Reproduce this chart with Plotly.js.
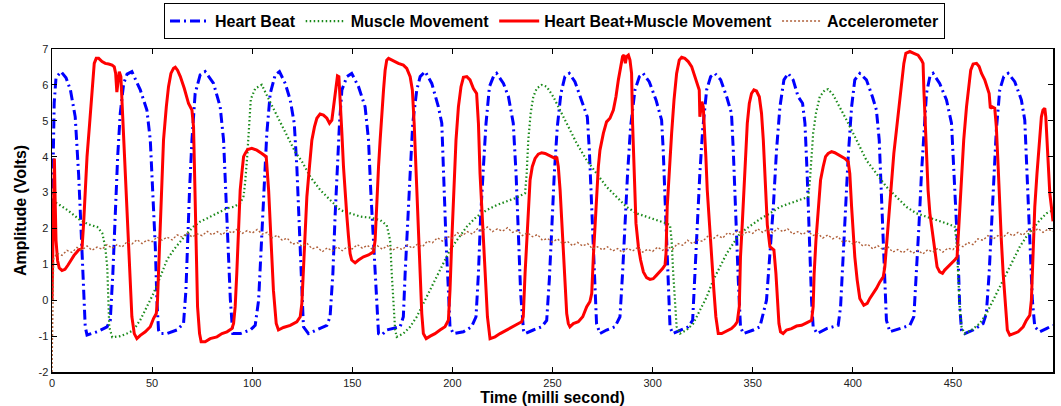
<!DOCTYPE html>
<html>
<head>
<meta charset="utf-8">
<script src="https://cdn.plot.ly/plotly-3.0.1.min.js"></script>
<style>html,body{margin:0;padding:0;background:#fff;}#chart{width:1061px;height:406px;}</style>
</head>
<body>
<div id="chart"></div>
<script>
// ---- Heart Beat (time ms, volts) ----
const hbT = [
0,0.5,1.1,2,4.5,7,9.2,11.6,13.3,14.5,15.5,16.6,17.5,22.5,27.5,29.1,
30.4,31.6,32.8,34.1,35.8,37.5,39.9,44.1,47.4,49.1,50.2,51.6,52.4,53.2,54.1,57.4,62.4,65.7,
66.9,67.7,68.7,69.9,71.5,74,76.5,80.7,84,85.7,86.7,87.9,89.1,90.3,94,99,101.5,
103.2,104.8,106,107.3,109,111.5,113.6,116.5,119,121,122.3,123.6,124.8,125.6,128.1,132.3,137.3,138.9,
140.3,141.4,142.6,143.6,144.8,147.3,149.7,153.1,156.4,158.1,159.2,160.6,161.9,163.1,164.7,167.2,173.9,175.5,
176.4,177.5,178.9,180.2,182.2,183.9,186.4,189.7,193,194.7,195.5,196.8,198,198.8,200.5,205.5,209.6,211.8,
213,214.1,215.5,216.8,218.5,220.5,222.1,225.5,228,230.4,231.8,233,234.1,235.5,236.3,240.4,244.6,247.1,
248.4,249.6,250.9,252.4,254.2,256.2,258.4,261.2,264.6,267.4,268.4,269.6,270.7,272,273.7,277,281.2,283.7,
285,286.2,287.5,289,291.2,293.4,295.3,298.3,301.7,304.5,305.3,306.5,307.5,308.7,310,313.7,317.8,320,
321.1,322.3,323.6,325,327,329,331.1,334,337,339.4,340.3,341.4,342.8,343.9,345.3,350.3,353.6,
356.9,358.6,360.3,361.9,363.6,365.6,367.7,370.2,372.7,374.9,376.1,377.2,378.2,379.4,380.2,382.2,386.9,392.7,
393.9,395.2,396.5,397.7,399.4,401,403.5,406.8,409.8,411.8,413.2,414.3,415.5,416.8,418.5,423.5,428.5,430.5,
431.8,433.1,434.3,435.5,436.8,438.5,440.1,443.4,446.8,449.3,450.9,452.6,453.4,454.3,455.9,460.1,465.1,466.7,
468.1,469.2,470.6,471.7,473.4,475.4,477.6,480.9,484.2,485.9,487.1,488.4,489.7,490.9,493.4,496.7,500
];
const hbV = [
2.0,3.5,5.5,6.2,6.37,6.2,5.86,5.11,3.5,2.0,0.75,-0.74,-0.97,-0.88,-0.74,-0.56,
0.75,2.42,4.0,5.21,6.04,6.3,6.37,5.86,5.3,4.46,3.07,1.49,0.0,-0.83,-0.93,-0.93,-0.83,-0.65,
0.28,1.67,3.07,4.46,5.76,6.28,6.37,6.04,5.39,4.46,3.07,1.49,0.0,-0.93,-0.93,-0.83,-0.7,
0.0,1.67,3.25,4.65,5.76,6.28,6.37,6.04,5.58,4.93,3.72,2.05,0.19,-0.74,-0.93,-0.83,-0.7,-0.46,
0.75,2.33,3.72,4.93,5.86,6.23,6.32,5.95,5.39,4.46,3.07,1.67,0.0,-0.93,-0.97,-0.83,-0.74,-0.46,
0.75,2.14,3.53,4.93,5.86,6.23,6.37,6.04,5.39,4.93,3.53,1.67,0.28,-0.74,-0.93,-0.88,-0.74,-0.46,
0.75,2.33,3.72,4.93,5.95,6.23,6.32,6.04,5.67,4.93,3.53,1.67,0.19,-0.83,-0.93,-0.83,-0.74,-0.56,
0.56,1.95,3.53,4.83,5.76,6.23,6.32,6.09,5.58,5.11,4.18,2.6,0.93,-0.65,-0.93,-0.83,-0.74,-0.46,
0.75,2.14,3.53,4.83,5.86,6.23,6.32,6.09,5.58,5.02,4.18,2.42,0.75,-0.74,-0.93,-0.83,-0.74,-0.56,
0.56,2.05,3.53,4.74,5.86,6.23,6.32,6.14,5.67,5.21,4.18,2.42,0.56,-0.74,-0.93,-0.83,-0.74,
0.0,1.21,2.6,4.18,5.39,6.14,6.32,6.14,5.67,5.49,4.93,3.53,1.67,0.0,-0.74,-0.93,-0.79,-0.7,
-0.18,1.21,2.6,4.0,5.39,6.14,6.32,6.14,5.67,5.3,4.46,2.79,0.93,-0.56,-0.88,-0.79,-0.7,-0.46,
0.75,2.14,3.53,4.74,5.76,6.23,6.32,6.04,5.58,4.93,3.07,1.21,-0.18,-0.83,-0.93,-0.83,-0.65,-0.37,
0.75,2.14,3.53,4.74,5.86,6.23,6.32,6.09,5.58,5.02,3.53,1.67,0.0,-0.74,-0.88,-0.79,-0.7
];

// ---- Muscle Movement ----
const mmT = [
0,2.6,8,14.1,18,22.6,25.1,26.6,27.6,28.1,28.6,30.1,34.1,37.4,40.6,44.1,47.4,50.7,54.1,57.4,
60.7,64.1,67.4,70.7,74,77.4,80.7,84,87.4,90.7,94,95.7,96.5,97.5,98.5,99.3,101.5,104.8,108,111.5,
115,118,121.5,125,129,134,139,144,149,154,159,164,167.2,168.9,169.7,170.5,171.4,172.2,175.5,178.9,
182.2,185.5,188.9,192.2,195.5,198.8,202.2,207.2,212.1,217.1,222.1,227.1,232.1,236.3,237.1,237.9,239.1,240.4,242.1,244.6,
247.1,250.4,253.8,257.1,262.1,267.1,272.1,277,282,287,292,297,302,307,308.7,309.5,310.3,311.2,312,313.7,
317,320.3,323.6,327,330.3,333.6,337,340.3,343.6,347,350.3,353.6,358.6,363.6,368.6,373.6,377.7,378.6,379.4,380.2,
381.6,383.5,386.1,387.7,390.2,393.5,396.9,401.9,406.8,411.8,416.8,421.8,426.8,431.8,436.8,441.8,446.8,450.9,451.8,452.6,
453.4,454.3,455.9,459.3,463.4,466.8,470.1,473.4,476.7,480.1,483.4,486.7,490,493.4,496.7,500
];
const mmV = [
2.75,2.7,2.5,2.23,2.12,2.04,1.87,1.48,0.92,0.0,-0.75,-1.03,-1.0,-0.93,-0.84,-0.55,-0.18,0.19,0.65,1.12,
1.4,1.63,1.86,2.05,2.19,2.28,2.37,2.47,2.56,2.6,2.7,2.9,3.3,4.0,5.0,5.6,5.9,6.0,5.63,5.24,
4.88,4.52,4.13,3.85,3.44,3.07,2.79,2.51,2.42,2.33,2.3,2.23,2.09,1.67,0.75,-0.18,-0.83,-1.02,-0.93,-0.74,
-0.46,-0.09,0.28,0.65,1.02,1.4,1.67,2.05,2.33,2.51,2.65,2.76,2.86,2.98,3.53,4.46,5.21,5.67,5.9,6.0,
5.95,5.67,5.3,4.93,4.37,3.9,3.53,3.16,2.88,2.6,2.42,2.33,2.23,2.14,2.09,1.67,0.75,-0.18,-0.74,-0.93,
-0.83,-0.65,-0.28,0.09,0.56,0.93,1.3,1.58,1.86,2.0,2.14,2.26,2.42,2.6,2.7,2.79,2.88,3.35,4.0,4.65,
5.21,5.67,5.86,5.88,5.72,5.39,5.02,4.46,3.9,3.53,3.16,2.88,2.6,2.42,2.33,2.23,2.14,2.05,1.67,0.75,
-0.18,-0.74,-0.93,-0.83,-0.65,-0.37,0.0,0.37,0.75,1.12,1.49,1.77,2.0,2.23,2.42,2.51
];

// ---- Heart Beat + Muscle Movement ----
const hmT = [
0,0.6,1.2,1.5,2.0,2.8,3.6,5.0,6.5,8.0,9.5,11,13.3,15,15.8,16.6,17.5,18.8,20,21.1,
22.1,23.3,25,26.6,28.3,30,31.1,31.8,32.4,32.9,33.6,34.4,35.1,35.8,36.6,37.8,38.8,39.9,41.1,42.4,
44.1,46.6,49.1,50.7,52.1,52.7,53.2,54.4,55.7,57.1,58.2,59.4,60.7,61.6,62.7,64.1,66.1,68.2,69.9,70.7,
71.2,71.9,72.7,73.7,74.5,76.5,79,82.4,84.9,87.4,89.9,90.7,91.5,92.3,93.2,94,94.8,95.7,96.5,97.7,
99.8,102.3,104.8,107,108.2,109.3,110.6,112,113.1,115.6,119,122.3,124,124.8,125.6,126.5,127.3,128.6,129.8,131.1,
132.3,133.9,135.6,137.3,138.6,139.8,140.6,141.6,142.6,143.3,143.9,144.8,145.6,146.4,147.3,148.1,148.9,149.7,151.4,153.1,
155.6,158.1,160.6,161.4,162.2,163.1,163.9,164.7,165.6,166.4,167.2,168.1,170.5,173,175.5,177.2,178.9,180,180.9,181.9,
183,183.9,184.7,185.5,186.9,188.9,191.3,193.8,196.3,198,198.8,199.7,200.8,201.8,203,204.3,205.5,207.2,208.8,210.5,
212.1,213,213.8,215,216.3,217.5,218.8,221.3,223.8,226.3,228.8,231.3,233,234.6,235.4,236.3,237.1,237.9,238.8,239.9,
241.3,242.9,244.6,246.3,247.9,249.6,251.3,252.1,252.9,253.8,254.6,255.4,256.2,257.1,257.9,258.7,260.4,262.9,265.1,267.1,
268.7,269.6,270.4,271.2,272.1,272.9,273.7,275.4,277,278.7,280.4,281.7,282.9,284,285,285.7,286.4,287,287.9,288.7,
289.5,290,290.7,291.7,292.9,294,295.4,297,298.7,300.3,302,303.7,305,306.2,306.7,307.3,308.3,309.5,310.7,312,
313.3,314.5,316.1,317.8,319.5,321.1,322.8,323.3,323.6,324.1,324.6,325.3,325.8,326.6,327.3,328.3,329.5,330.6,331.6,332.8,
334.5,336.1,337.8,339.4,341.1,342.3,343.3,343.9,344.8,345.6,346.4,347.3,348.3,349.4,350.6,351.9,353.3,354.4,355.3,356.1,
357.3,358.6,360.6,361.6,362.3,363.1,363.9,365.2,366.9,369.4,371.9,374.4,376.9,379.4,380.2,380.7,381.6,382.7,383.9,385.2,
386.4,387.7,389.4,391,393.5,396,397.7,398.5,399.4,400.2,401,402.2,403.5,405.5,407.2,408.5,410.2,411.8,413.5,415.2,
416,416.8,418,419.3,420.5,421.8,423.2,424.3,425.5,426.5,428.5,430.5,432.6,434.3,435.1,435.5,436.1,436.8,437.6,438.5,
439.8,441,442.1,443.4,444.8,445.9,447.6,449.3,450.9,452.1,452.6,453.4,454.3,455.4,456.8,457.9,458.9,460.1,461.8,463.1,
464.3,465.9,467.2,468.1,468.7,469.6,470.9,471.7,472.6,473.4,474.2,475.1,476.2,477.2,478.4,480.1,482.6,485.1,486.7,488.4,
489.2,490,490.9,492,493.4,494.2,495,495.9,496.4,497,497.7,498.4,499.2,499.7,500
];
const hmV = [
0.0,2.5,3.95,3.0,1.67,1.1,0.9,0.83,0.86,0.98,1.12,1.25,1.4,1.45,2.14,3.07,4.0,4.93,5.86,6.6,
6.74,6.74,6.65,6.6,6.58,6.55,6.5,6.32,5.8,6.14,6.37,6.23,5.39,4.46,3.53,2.14,0.75,-0.46,-0.93,-1.07,
-0.98,-0.88,-0.74,-0.51,-0.37,0.0,0.75,2.6,4.46,5.39,5.95,6.32,6.46,6.49,6.41,6.23,5.9,5.48,5.3,4.83,
3.53,1.67,-0.18,-0.93,-1.16,-1.16,-1.07,-1.02,-0.93,-0.88,-0.79,-0.65,-0.18,0.75,2.14,3.07,3.53,4.0,4.09,4.2,
4.23,4.18,4.09,4.0,3.07,1.67,0.28,-0.65,-0.83,-0.76,-0.7,-0.6,-0.46,-0.09,0.75,1.86,2.88,3.72,4.46,4.83,
5.07,5.19,5.16,5.07,4.93,5.02,5.39,5.86,6.25,6.23,5.67,4.65,3.72,2.98,2.33,1.77,1.3,1.12,1.04,1.12,
1.21,1.26,1.35,1.67,2.79,3.72,4.46,5.21,5.86,6.41,6.69,6.74,6.67,6.6,6.55,6.46,6.23,5.86,4.93,3.53,
2.14,0.75,-0.37,-0.93,-1.07,-1.0,-0.93,-0.83,-0.74,-0.56,0.28,1.67,3.07,4.46,5.39,5.95,6.21,6.23,6.14,5.9,
5.76,4.93,3.53,2.14,0.75,-0.46,-1.07,-1.02,-0.93,-0.86,-0.79,-0.7,-0.65,-0.6,-0.46,0.75,1.67,2.6,3.35,3.72,
3.95,4.07,4.11,4.09,4.04,3.98,3.95,4.0,3.72,3.07,2.14,1.21,0.28,-0.37,-0.65,-0.74,-0.65,-0.6,-0.46,-0.18,
-0.04,0.19,1.21,2.14,3.07,3.72,4.18,4.65,4.97,5.07,5.3,5.67,6.14,6.51,6.79,6.83,6.6,6.79,6.83,6.69,
6.32,4.93,3.53,2.14,1.49,1.12,0.79,0.63,0.58,0.6,0.7,0.79,0.88,0.98,1.3,2.6,3.72,4.65,5.58,6.32,
6.69,6.77,6.74,6.65,6.51,6.23,5.95,5.86,5.11,5.39,5.53,5.39,4.93,4.0,3.07,2.14,1.21,0.28,-0.46,-0.93,
-0.93,-0.88,-0.83,-0.79,-0.7,-0.6,-0.18,1.21,2.14,3.07,4.0,4.93,5.48,5.76,5.86,5.83,5.67,5.21,4.46,3.5,
2.1,1.49,1.4,0.75,0.0,-0.65,-0.88,-0.93,-0.83,-0.79,-0.72,-0.7,-0.63,-0.56,-0.18,0.75,1.67,2.6,3.35,3.72,
4.0,4.09,4.14,4.11,4.04,3.95,3.86,3.53,2.6,1.86,1.21,0.56,0.05,-0.14,-0.09,0.05,0.19,0.33,0.51,0.65,
0.93,1.49,2.42,3.35,4.09,4.74,5.39,6.04,6.6,6.88,6.93,6.88,6.83,6.69,6.6,5.86,4.93,4.0,3.07,2.42,
1.86,1.3,0.93,0.79,0.75,0.84,0.93,1.02,1.12,1.21,1.67,2.6,3.53,4.46,5.39,6.04,6.41,6.58,6.6,6.51,
6.32,6.14,5.95,5.76,5.35,5.39,5.35,4.83,3.72,2.6,1.67,0.75,-0.18,-0.83,-0.97,-0.93,-0.88,-0.74,-0.56,-0.42,
0.0,1.21,2.6,3.53,4.46,5.11,5.3,5.35,5.11,4.46,3.53,2.98,2.6,2.33,2.2
];

// ---- Accelerometer ----
const accT = [
0,0.8,
2.5,5,7.5,10,12.5,15,17.5,20,22.5,25,
27.5,30,32.5,35,37.5,40,42.5,45,47.5,50,
52.5,55,57.5,60,62.5,65,67.5,70,72.5,75,
77.5,80,82.5,85,87.5,90,92.5,95,97.5,100,
102.5,105,107.5,110,112.5,115,117.5,120,122.5,125,
127.5,130,132.5,135,137.5,140,142.5,145,147.5,150,
152.5,155,157.5,160,162.5,165,167.5,170,172.5,175,
177.5,180,182.5,185,187.5,190,192.5,195,197.5,200,
202.5,205,207.5,210,212.5,215,217.5,220,222.5,225,
227.5,230,232.5,235,237.5,240,242.5,245,247.5,250,
252.5,255,257.5,260,262.5,265,267.5,270,272.5,275,
277.5,280,282.5,285,287.5,290,292.5,295,297.5,300,
302.5,305,307.5,310,312.5,315,317.5,320,322.5,325,
327.5,330,332.5,335,337.5,340,342.5,345,347.5,350,
352.5,355,357.5,360,362.5,365,367.5,370,372.5,375,
377.5,380,382.5,385,387.5,390,392.5,395,397.5,400,
402.5,405,407.5,410,412.5,415,417.5,420,422.5,425,
427.5,430,432.5,435,437.5,440,442.5,445,447.5,450,
452.5,455,457.5,460,462.5,465,467.5,470,472.5,475,
477.5,480,482.5,485,487.5,490,492.5,495,497.5,500
];
const accV = [
-2.0,1.15,
1.31,1.25,1.39,1.33,1.47,1.40,1.51,1.39,1.48,1.42,
1.55,1.45,1.55,1.48,1.63,1.57,1.69,1.58,1.68,1.63,
1.76,1.67,1.76,1.68,1.82,1.76,1.87,1.76,1.85,1.80,
1.92,1.82,1.91,1.82,1.95,1.87,1.98,1.86,1.94,1.87,
1.97,1.84,1.89,1.74,1.81,1.67,1.73,1.56,1.60,1.50,
1.58,1.43,1.48,1.35,1.46,1.37,1.49,1.38,1.49,1.43,
1.55,1.45,1.53,1.42,1.52,1.42,1.52,1.39,1.47,1.41,
1.54,1.45,1.56,1.49,1.65,1.60,1.74,1.65,1.77,1.73,
1.88,1.80,1.91,1.84,1.99,1.93,2.04,1.91,1.99,1.92,
2.02,1.89,1.94,1.80,1.88,1.77,1.83,1.67,1.72,1.62,
1.71,1.58,1.64,1.52,1.61,1.51,1.58,1.43,1.49,1.40,
1.49,1.37,1.44,1.33,1.45,1.37,1.47,1.34,1.42,1.36,
1.48,1.39,1.49,1.42,1.58,1.53,1.67,1.57,1.68,1.64,
1.78,1.70,1.81,1.73,1.88,1.82,1.94,1.82,1.92,1.86,
1.99,1.89,1.98,1.88,2.00,1.91,1.99,1.84,1.91,1.83,
1.93,1.80,1.86,1.73,1.82,1.71,1.78,1.62,1.67,1.57,
1.65,1.51,1.56,1.43,1.52,1.41,1.49,1.34,1.41,1.32,
1.42,1.31,1.39,1.29,1.41,1.34,1.45,1.34,1.45,1.41,
1.56,1.49,1.61,1.55,1.71,1.67,1.80,1.70,1.80,1.75,
1.88,1.79,1.89,1.81,1.95,1.88,2.00,1.89,1.98,1.92
];

const seriesNames = ['Heart Beat', 'Muscle Movement', 'Heart Beat+Muscle Movement', 'Accelerometer'];
const xTicks = [0,50,100,150,200,250,300,350,400,450,500];
const yTicks = [-2,-1,0,1,2,3,4,5,6,7];

const FONT = 'Liberation Sans, Arial, Helvetica, sans-serif';

const traces = [
  {x: hbT, y: hbV, name: seriesNames[0], mode: 'lines', type: 'scatter',
   line: {color: '#0000ff', width: 3, dash: '10px,4px,2px,4px'}},
  {x: mmT, y: mmV, name: seriesNames[1], mode: 'lines', type: 'scatter',
   line: {color: '#1a8a1a', width: 2.2, dash: '1.5px,2.5px'}},
  {x: hmT, y: hmV, name: seriesNames[2], mode: 'lines', type: 'scatter',
   line: {color: '#ff0000', width: 3}},
  {x: accT, y: accV, name: seriesNames[3], mode: 'lines', type: 'scatter',
   line: {color: '#b0603a', width: 1.4, dash: '2px,2px'}}
];

const axisCommon = {
  showgrid: false, zeroline: false, showline: true, mirror: 'ticks',
  linecolor: '#000', linewidth: 1.5, ticks: 'inside', ticklen: 5, tickwidth: 1,
  tickcolor: '#000', tickfont: {family: FONT, size: 11, color: '#222'}
};

const layout = {
  width: 1061, height: 406,
  margin: {l: 52, r: 8, t: 49, b: 34, autoexpand: false},
  paper_bgcolor: '#fff', plot_bgcolor: '#fff',
  showlegend: true,
  legend: {
    orientation: 'h', x: 0.502, xanchor: 'center', y: 1.142, yanchor: 'top',
    bordercolor: '#000', borderwidth: 1, bgcolor: '#fff',
    font: {family: FONT, size: 16, color: '#000', weight: 'bold'},
    itemwidth: 40, tracegroupgap: 0
  },
  xaxis: Object.assign({}, axisCommon, {
    range: [0, 500], tickvals: xTicks, ticktext: xTicks.map(String),
    title: {text: 'Time (milli second)', font: {family: FONT, size: 16, color: '#000', weight: 'bold'}, standoff: 2}
  }),
  yaxis: Object.assign({}, axisCommon, {
    range: [-2, 7], tickvals: yTicks, ticktext: yTicks.map(String),
    title: {text: 'Amplitude (Volts)', font: {family: FONT, size: 16, color: '#000', weight: 'bold'}, standoff: 8}
  }),
  hovermode: false
};

Plotly.newPlot('chart', traces, layout, {displayModeBar: false, staticPlot: true});
</script>
</body>
</html>
